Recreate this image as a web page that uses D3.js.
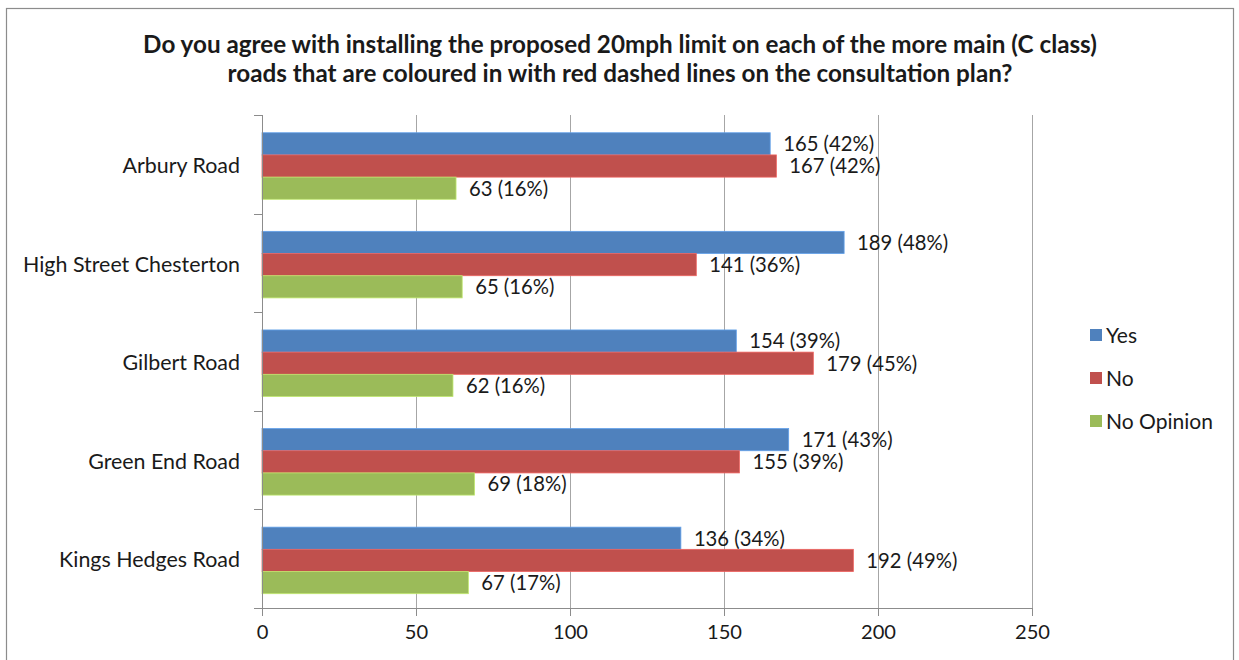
<!DOCTYPE html>
<html>
<head>
<meta charset="utf-8">
<script src="https://cdn.jsdelivr.net/npm/d3@7"></script>
<style>
  html, body { margin: 0; padding: 0; background: #fff; }
  svg { display: block; }
  text { font-family: Lato, "Open Sans", sans-serif; fill: #1a1a1a; }
</style>
</head>
<body>
<svg id="chart" width="1239" height="660"></svg>
<script>
// Survey responses per road
const roads = ["Arbury Road", "High Street Chesterton", "Gilbert Road", "Green End Road", "Kings Hedges Road"];
const seriesNames = ["Yes", "No", "No Opinion"];
const seriesColors = ["#4F81BD", "#C0504D", "#9BBB59"];
const yesCounts = [165, 189, 154, 171, 136];
const noCounts = [167, 141, 179, 155, 192];
const noOpinionCounts = [63, 65, 62, 69, 67];
const yesPct = [42, 48, 39, 43, 34];
const noPct = [42, 36, 45, 39, 49];
const noOpinionPct = [16, 16, 16, 18, 17];
const xTicks = [0, 50, 100, 150, 200, 250];
const titleLines = [
  "Do you agree with installing the proposed 20mph limit on each of the more main (C class)",
  "roads that are coloured in with red dashed lines on the consultation plan?"
];

const counts = [yesCounts, noCounts, noOpinionCounts];
const pcts = [yesPct, noPct, noOpinionPct];

const svg = d3.select("#chart");

// font size that makes a sample string span the given width
function sizeFor(sample, weight, target) {
  const t = svg.append("text").attr("font-size", 20).attr("font-weight", weight).text(sample);
  const w = t.node().getComputedTextLength();
  t.remove();
  return +(20 * target / w).toFixed(2);
}
const titleSize = sizeFor(titleLines[0], "bold", 954);
const catSize = sizeFor("High Street Chesterton", "normal", 217);
const valueSize = sizeFor("165 (42%)", "normal", 91);
const tickSize = sizeFor("250", "normal", 35);
const legendSize = sizeFor("No Opinion", "normal", 107);

// outer frame
svg.append("rect")
  .attr("x", 6.5).attr("y", 8.5)
  .attr("width", 1227).attr("height", 660)
  .attr("fill", "#fff").attr("stroke", "#8c8c8c").attr("stroke-width", 1.2);

const plot = { left: 262, right: 1032, top: 115, bottom: 608 };

const x = d3.scaleLinear().domain([0, 250]).range([plot.left, plot.right]);
const y = d3.scaleBand().domain(roads).range([plot.top, plot.bottom]).padding(0);
const inner = d3.scaleBand().domain(seriesNames)
  .range([y.bandwidth() * 0.18, y.bandwidth() * 0.855]).padding(0);

// title
svg.append("g")
  .selectAll("text")
  .data(titleLines)
  .join("text")
  .attr("x", 620).attr("y", (d, i) => 53 + i * 29)
  .attr("text-anchor", "middle")
  .attr("font-weight", "bold")
  .attr("font-size", titleSize)
  .text(d => d);

// vertical gridlines
svg.append("g")
  .selectAll("line")
  .data(xTicks.filter(d => d > 0))
  .join("line")
  .attr("x1", d => Math.round(x(d)) + 0.5).attr("x2", d => Math.round(x(d)) + 0.5)
  .attr("y1", plot.top).attr("y2", plot.bottom)
  .attr("stroke", "#a6a6a6").attr("stroke-width", 1);

// bars
const groups = svg.append("g")
  .selectAll("g")
  .data(roads)
  .join("g")
  .attr("transform", d => `translate(0,${y(d)})`);

seriesNames.forEach((name, si) => {
  groups.append("rect")
    .attr("x", x(0))
    .attr("y", inner(name))
    .attr("width", (d, i) => x(counts[si][i]) - x(0))
    .attr("height", inner.bandwidth())
    .attr("fill", seriesColors[si])
    .attr("stroke", d3.color(seriesColors[si]).brighter(0.6))
    .attr("stroke-width", 0.8);

  groups.append("text")
    .attr("x", (d, i) => x(counts[si][i]) + 13)
    .attr("y", inner(name) + inner.bandwidth() / 2)
    .attr("dy", "0.36em")
    .attr("font-size", valueSize)
    .text((d, i) => `${counts[si][i]} (${pcts[si][i]}%)`);
});

// x axis
const xAxis = svg.append("g")
  .attr("transform", `translate(0,${plot.bottom})`)
  .call(d3.axisBottom(x).tickValues(xTicks).tickSize(8).tickPadding(9).tickSizeOuter(0));
xAxis.select(".domain").attr("stroke", "#8c8c8c");
xAxis.selectAll(".tick line").attr("stroke", "#8c8c8c");
xAxis.selectAll(".tick text")
  .attr("font-size", tickSize).attr("fill", "#1a1a1a")
  .style("font-family", "Lato, sans-serif");

// y axis: ticks at category boundaries
const yAxisG = svg.append("g");
yAxisG.append("line")
  .attr("x1", plot.left + 0.5).attr("x2", plot.left + 0.5)
  .attr("y1", plot.top).attr("y2", plot.bottom)
  .attr("stroke", "#8c8c8c");
yAxisG.selectAll("line.tick")
  .data(roads.map(r => y(r)).concat([plot.bottom]))
  .join("line")
  .attr("class", "tick")
  .attr("x1", plot.left - 8).attr("x2", plot.left)
  .attr("y1", d => Math.round(d) + 0.5).attr("y2", d => Math.round(d) + 0.5)
  .attr("stroke", "#8c8c8c");
yAxisG.selectAll("text")
  .data(roads)
  .join("text")
  .attr("x", 240)
  .attr("y", d => y(d) + y.bandwidth() / 2 + 1)
  .attr("dy", "0.36em")
  .attr("text-anchor", "end")
  .attr("font-size", catSize)
  .text(d => d);

// legend
const legend = svg.append("g").attr("transform", "translate(1090,335)");
seriesNames.forEach((name, i) => {
  const g = legend.append("g").attr("transform", `translate(0,${i * 43})`);
  g.append("rect").attr("x", 0).attr("y", -6).attr("width", 12).attr("height", 12)
    .attr("fill", seriesColors[i]);
  g.append("text").attr("x", 16).attr("y", 0).attr("dy", "0.36em")
    .attr("font-size", legendSize).text(name);
});
</script>
</body>
</html>
